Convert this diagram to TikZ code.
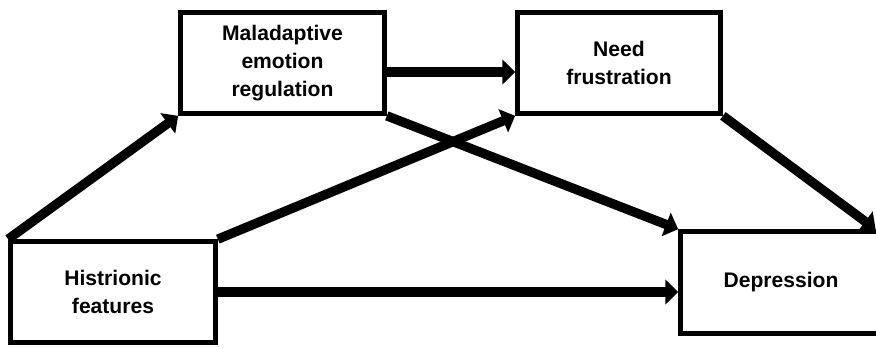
\documentclass[tikz,border=0pt]{standalone}
\usepackage{fontspec}
\setmainfont{Liberation Sans}
\usepackage{tikz}
\usetikzlibrary{shapes,arrows.meta,positioning,calc}

\begin{document}
\begin{tikzpicture}
	\tikzstyle{Box}   = [rectangle, draw, line width=4pt, fill=white, align=center, inner sep=0pt,
	                     font=\fontsize{18}{24}\selectfont\bfseries]
	\tikzstyle{Link}  = [line width=8pt, -{Triangle[width=21pt,length=11pt]}]
	\tikzstyle{Wide}  = [line width=9pt]

	\useasboundingbox (0,0) rectangle (26.28,10.41);
	\clip (0,0) rectangle (26.28,10.41);

	\node (mal)  at (8.475, 8.52) [Box, minimum width=6.12cm, minimum height=3.03cm] {Maladaptive\\emotion\\regulation};
	\node (need) at (18.57, 8.52) [Box, minimum width=6.09cm, minimum height=3.03cm] {Need\\frustration};
	\node (hist) at (3.39, 1.65)  [Box, minimum width=6.15cm, minimum height=3.03cm] {Histrionic\\features};
	\node (dep)  at (23.43, 1.935) [Box, minimum width=6.03cm, minimum height=3.06cm] {Depression};

	\draw (hist.north west) to (mal.south west) [Link];
	\draw (hist.north east) to (need.south west) [Link];
	\draw (hist.east) to (hist.east -| dep.west) [Link][Wide];
	\draw ($(mal.east)+(0,-0.27)$) to ($(need.west)+(0,-0.27)$) [Link][Wide];
	\draw (mal.south east) to (dep.north west) [Link];
	\draw (need.south east) to ($(dep.north east)+(-0.25,0)$) [Link];
\end{tikzpicture}
\end{document}
